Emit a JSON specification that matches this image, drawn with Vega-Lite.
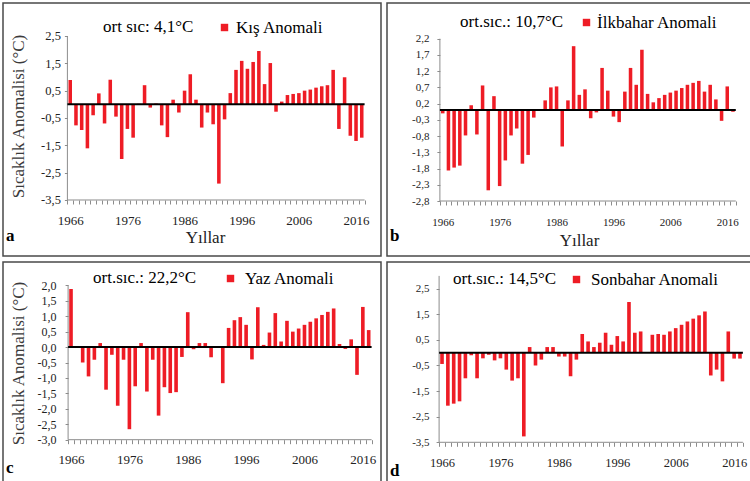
{
  "$schema": "https://vega.github.io/schema/vega-lite/v6.json",
  "background": "white",
  "padding": {"left": 2, "top": 2, "right": 0, "bottom": 0},
  "datasets": {
    "kis": [
      {"yil":1966,"deger":0.89,"seri":"Kış Anomali"},{"yil":1967,"deger":-0.77,"seri":"Kış Anomali"},{"yil":1968,"deger":-0.94,"seri":"Kış Anomali"},{"yil":1969,"deger":-1.61,"seri":"Kış Anomali"},{"yil":1970,"deger":-0.4,"seri":"Kış Anomali"},{"yil":1971,"deger":0.4,"seri":"Kış Anomali"},{"yil":1972,"deger":-0.7,"seri":"Kış Anomali"},{"yil":1973,"deger":0.9,"seri":"Kış Anomali"},{"yil":1974,"deger":-0.45,"seri":"Kış Anomali"},{"yil":1975,"deger":-2.0,"seri":"Kış Anomali"},{"yil":1976,"deger":-0.9,"seri":"Kış Anomali"},{"yil":1977,"deger":-1.22,"seri":"Kış Anomali"},{"yil":1978,"deger":0.02,"seri":"Kış Anomali"},{"yil":1979,"deger":0.7,"seri":"Kış Anomali"},{"yil":1980,"deger":-0.12,"seri":"Kış Anomali"},{"yil":1981,"deger":0.03,"seri":"Kış Anomali"},{"yil":1982,"deger":-0.77,"seri":"Kış Anomali"},{"yil":1983,"deger":-1.2,"seri":"Kış Anomali"},{"yil":1984,"deger":0.17,"seri":"Kış Anomali"},{"yil":1985,"deger":-0.3,"seri":"Kış Anomali"},{"yil":1986,"deger":0.5,"seri":"Kış Anomali"},{"yil":1987,"deger":1.1,"seri":"Kış Anomali"},{"yil":1988,"deger":0.17,"seri":"Kış Anomali"},{"yil":1989,"deger":-0.85,"seri":"Kış Anomali"},{"yil":1990,"deger":-0.3,"seri":"Kış Anomali"},{"yil":1991,"deger":-0.73,"seri":"Kış Anomali"},{"yil":1992,"deger":-2.9,"seri":"Kış Anomali"},{"yil":1993,"deger":-0.55,"seri":"Kış Anomali"},{"yil":1994,"deger":0.41,"seri":"Kış Anomali"},{"yil":1995,"deger":1.26,"seri":"Kış Anomali"},{"yil":1996,"deger":1.59,"seri":"Kış Anomali"},{"yil":1997,"deger":1.3,"seri":"Kış Anomali"},{"yil":1998,"deger":1.55,"seri":"Kış Anomali"},{"yil":1999,"deger":1.95,"seri":"Kış Anomali"},{"yil":2000,"deger":0.74,"seri":"Kış Anomali"},{"yil":2001,"deger":1.51,"seri":"Kış Anomali"},{"yil":2002,"deger":-0.27,"seri":"Kış Anomali"},{"yil":2003,"deger":0.1,"seri":"Kış Anomali"},{"yil":2004,"deger":0.34,"seri":"Kış Anomali"},{"yil":2005,"deger":0.38,"seri":"Kış Anomali"},{"yil":2006,"deger":0.41,"seri":"Kış Anomali"},{"yil":2007,"deger":0.5,"seri":"Kış Anomali"},{"yil":2008,"deger":0.54,"seri":"Kış Anomali"},{"yil":2009,"deger":0.61,"seri":"Kış Anomali"},{"yil":2010,"deger":0.66,"seri":"Kış Anomali"},{"yil":2011,"deger":0.7,"seri":"Kış Anomali"},{"yil":2012,"deger":1.26,"seri":"Kış Anomali"},{"yil":2013,"deger":-0.9,"seri":"Kış Anomali"},{"yil":2014,"deger":0.99,"seri":"Kış Anomali"},{"yil":2015,"deger":-1.15,"seri":"Kış Anomali"},{"yil":2016,"deger":-1.34,"seri":"Kış Anomali"},{"yil":2017,"deger":-1.22,"seri":"Kış Anomali"}
    ],
    "ilkbahar": [
      {"yil":1966,"deger":-0.1,"seri":"İlkbahar Anomali"},{"yil":1967,"deger":-1.86,"seri":"İlkbahar Anomali"},{"yil":1968,"deger":-1.77,"seri":"İlkbahar Anomali"},{"yil":1969,"deger":-1.71,"seri":"İlkbahar Anomali"},{"yil":1970,"deger":-0.78,"seri":"İlkbahar Anomali"},{"yil":1971,"deger":0.15,"seri":"İlkbahar Anomali"},{"yil":1972,"deger":-0.75,"seri":"İlkbahar Anomali"},{"yil":1973,"deger":0.76,"seri":"İlkbahar Anomali"},{"yil":1974,"deger":-2.47,"seri":"İlkbahar Anomali"},{"yil":1975,"deger":0.43,"seri":"İlkbahar Anomali"},{"yil":1976,"deger":-2.34,"seri":"İlkbahar Anomali"},{"yil":1977,"deger":-1.55,"seri":"İlkbahar Anomali"},{"yil":1978,"deger":-0.78,"seri":"İlkbahar Anomali"},{"yil":1979,"deger":-0.57,"seri":"İlkbahar Anomali"},{"yil":1980,"deger":-1.65,"seri":"İlkbahar Anomali"},{"yil":1981,"deger":-1.38,"seri":"İlkbahar Anomali"},{"yil":1982,"deger":-0.23,"seri":"İlkbahar Anomali"},{"yil":1983,"deger":0.0,"seri":"İlkbahar Anomali"},{"yil":1984,"deger":0.3,"seri":"İlkbahar Anomali"},{"yil":1985,"deger":0.7,"seri":"İlkbahar Anomali"},{"yil":1986,"deger":0.73,"seri":"İlkbahar Anomali"},{"yil":1987,"deger":-1.12,"seri":"İlkbahar Anomali"},{"yil":1988,"deger":0.3,"seri":"İlkbahar Anomali"},{"yil":1989,"deger":1.97,"seri":"İlkbahar Anomali"},{"yil":1990,"deger":0.47,"seri":"İlkbahar Anomali"},{"yil":1991,"deger":0.64,"seri":"İlkbahar Anomali"},{"yil":1992,"deger":-0.25,"seri":"İlkbahar Anomali"},{"yil":1993,"deger":-0.07,"seri":"İlkbahar Anomali"},{"yil":1994,"deger":1.3,"seri":"İlkbahar Anomali"},{"yil":1995,"deger":0.6,"seri":"İlkbahar Anomali"},{"yil":1996,"deger":-0.2,"seri":"İlkbahar Anomali"},{"yil":1997,"deger":-0.37,"seri":"İlkbahar Anomali"},{"yil":1998,"deger":0.57,"seri":"İlkbahar Anomali"},{"yil":1999,"deger":1.3,"seri":"İlkbahar Anomali"},{"yil":2000,"deger":0.78,"seri":"İlkbahar Anomali"},{"yil":2001,"deger":1.86,"seri":"İlkbahar Anomali"},{"yil":2002,"deger":0.5,"seri":"İlkbahar Anomali"},{"yil":2003,"deger":0.24,"seri":"İlkbahar Anomali"},{"yil":2004,"deger":0.37,"seri":"İlkbahar Anomali"},{"yil":2005,"deger":0.47,"seri":"İlkbahar Anomali"},{"yil":2006,"deger":0.54,"seri":"İlkbahar Anomali"},{"yil":2007,"deger":0.6,"seri":"İlkbahar Anomali"},{"yil":2008,"deger":0.68,"seri":"İlkbahar Anomali"},{"yil":2009,"deger":0.78,"seri":"İlkbahar Anomali"},{"yil":2010,"deger":0.84,"seri":"İlkbahar Anomali"},{"yil":2011,"deger":0.9,"seri":"İlkbahar Anomali"},{"yil":2012,"deger":0.57,"seri":"İlkbahar Anomali"},{"yil":2013,"deger":0.78,"seri":"İlkbahar Anomali"},{"yil":2014,"deger":0.33,"seri":"İlkbahar Anomali"},{"yil":2015,"deger":-0.33,"seri":"İlkbahar Anomali"},{"yil":2016,"deger":0.73,"seri":"İlkbahar Anomali"},{"yil":2017,"deger":-0.05,"seri":"İlkbahar Anomali"}
    ],
    "yaz": [
      {"yil":1966,"deger":1.88,"seri":"Yaz Anomali"},{"yil":1967,"deger":0.0,"seri":"Yaz Anomali"},{"yil":1968,"deger":-0.5,"seri":"Yaz Anomali"},{"yil":1969,"deger":-0.95,"seri":"Yaz Anomali"},{"yil":1970,"deger":-0.41,"seri":"Yaz Anomali"},{"yil":1971,"deger":0.13,"seri":"Yaz Anomali"},{"yil":1972,"deger":-1.38,"seri":"Yaz Anomali"},{"yil":1973,"deger":-0.25,"seri":"Yaz Anomali"},{"yil":1974,"deger":-1.9,"seri":"Yaz Anomali"},{"yil":1975,"deger":-0.41,"seri":"Yaz Anomali"},{"yil":1976,"deger":-2.66,"seri":"Yaz Anomali"},{"yil":1977,"deger":-1.27,"seri":"Yaz Anomali"},{"yil":1978,"deger":0.13,"seri":"Yaz Anomali"},{"yil":1979,"deger":-1.44,"seri":"Yaz Anomali"},{"yil":1980,"deger":-0.41,"seri":"Yaz Anomali"},{"yil":1981,"deger":-2.22,"seri":"Yaz Anomali"},{"yil":1982,"deger":-1.3,"seri":"Yaz Anomali"},{"yil":1983,"deger":-1.49,"seri":"Yaz Anomali"},{"yil":1984,"deger":-1.46,"seri":"Yaz Anomali"},{"yil":1985,"deger":-0.32,"seri":"Yaz Anomali"},{"yil":1986,"deger":1.13,"seri":"Yaz Anomali"},{"yil":1987,"deger":-0.07,"seri":"Yaz Anomali"},{"yil":1988,"deger":0.13,"seri":"Yaz Anomali"},{"yil":1989,"deger":0.13,"seri":"Yaz Anomali"},{"yil":1990,"deger":-0.33,"seri":"Yaz Anomali"},{"yil":1991,"deger":0.0,"seri":"Yaz Anomali"},{"yil":1992,"deger":-1.17,"seri":"Yaz Anomali"},{"yil":1993,"deger":0.62,"seri":"Yaz Anomali"},{"yil":1994,"deger":0.87,"seri":"Yaz Anomali"},{"yil":1995,"deger":0.97,"seri":"Yaz Anomali"},{"yil":1996,"deger":0.72,"seri":"Yaz Anomali"},{"yil":1997,"deger":-0.4,"seri":"Yaz Anomali"},{"yil":1998,"deger":1.29,"seri":"Yaz Anomali"},{"yil":1999,"deger":0.07,"seri":"Yaz Anomali"},{"yil":2000,"deger":0.47,"seri":"Yaz Anomali"},{"yil":2001,"deger":1.1,"seri":"Yaz Anomali"},{"yil":2002,"deger":0.18,"seri":"Yaz Anomali"},{"yil":2003,"deger":0.85,"seri":"Yaz Anomali"},{"yil":2004,"deger":0.5,"seri":"Yaz Anomali"},{"yil":2005,"deger":0.6,"seri":"Yaz Anomali"},{"yil":2006,"deger":0.72,"seri":"Yaz Anomali"},{"yil":2007,"deger":0.82,"seri":"Yaz Anomali"},{"yil":2008,"deger":0.93,"seri":"Yaz Anomali"},{"yil":2009,"deger":1.04,"seri":"Yaz Anomali"},{"yil":2010,"deger":1.14,"seri":"Yaz Anomali"},{"yil":2011,"deger":1.25,"seri":"Yaz Anomali"},{"yil":2012,"deger":0.1,"seri":"Yaz Anomali"},{"yil":2013,"deger":-0.06,"seri":"Yaz Anomali"},{"yil":2014,"deger":0.25,"seri":"Yaz Anomali"},{"yil":2015,"deger":-0.9,"seri":"Yaz Anomali"},{"yil":2016,"deger":1.3,"seri":"Yaz Anomali"},{"yil":2017,"deger":0.55,"seri":"Yaz Anomali"}
    ],
    "sonbahar": [
      {"yil":1966,"deger":-0.44,"seri":"Sonbahar Anomali"},{"yil":1967,"deger":-2.07,"seri":"Sonbahar Anomali"},{"yil":1968,"deger":-1.99,"seri":"Sonbahar Anomali"},{"yil":1969,"deger":-1.9,"seri":"Sonbahar Anomali"},{"yil":1970,"deger":-1.0,"seri":"Sonbahar Anomali"},{"yil":1971,"deger":-0.1,"seri":"Sonbahar Anomali"},{"yil":1972,"deger":-1.0,"seri":"Sonbahar Anomali"},{"yil":1973,"deger":-0.22,"seri":"Sonbahar Anomali"},{"yil":1974,"deger":-0.08,"seri":"Sonbahar Anomali"},{"yil":1975,"deger":-0.3,"seri":"Sonbahar Anomali"},{"yil":1976,"deger":-0.22,"seri":"Sonbahar Anomali"},{"yil":1977,"deger":-0.66,"seri":"Sonbahar Anomali"},{"yil":1978,"deger":-1.09,"seri":"Sonbahar Anomali"},{"yil":1979,"deger":-1.0,"seri":"Sonbahar Anomali"},{"yil":1980,"deger":-3.27,"seri":"Sonbahar Anomali"},{"yil":1981,"deger":0.22,"seri":"Sonbahar Anomali"},{"yil":1982,"deger":-0.5,"seri":"Sonbahar Anomali"},{"yil":1983,"deger":-0.27,"seri":"Sonbahar Anomali"},{"yil":1984,"deger":0.22,"seri":"Sonbahar Anomali"},{"yil":1985,"deger":0.22,"seri":"Sonbahar Anomali"},{"yil":1986,"deger":-0.15,"seri":"Sonbahar Anomali"},{"yil":1987,"deger":-0.15,"seri":"Sonbahar Anomali"},{"yil":1988,"deger":-0.92,"seri":"Sonbahar Anomali"},{"yil":1989,"deger":-0.27,"seri":"Sonbahar Anomali"},{"yil":1990,"deger":0.73,"seri":"Sonbahar Anomali"},{"yil":1991,"deger":0.44,"seri":"Sonbahar Anomali"},{"yil":1992,"deger":0.22,"seri":"Sonbahar Anomali"},{"yil":1993,"deger":0.39,"seri":"Sonbahar Anomali"},{"yil":1994,"deger":0.78,"seri":"Sonbahar Anomali"},{"yil":1995,"deger":0.31,"seri":"Sonbahar Anomali"},{"yil":1996,"deger":0.65,"seri":"Sonbahar Anomali"},{"yil":1997,"deger":0.44,"seri":"Sonbahar Anomali"},{"yil":1998,"deger":1.98,"seri":"Sonbahar Anomali"},{"yil":1999,"deger":0.78,"seri":"Sonbahar Anomali"},{"yil":2000,"deger":0.83,"seri":"Sonbahar Anomali"},{"yil":2001,"deger":0.0,"seri":"Sonbahar Anomali"},{"yil":2002,"deger":0.7,"seri":"Sonbahar Anomali"},{"yil":2003,"deger":0.73,"seri":"Sonbahar Anomali"},{"yil":2004,"deger":0.7,"seri":"Sonbahar Anomali"},{"yil":2005,"deger":0.83,"seri":"Sonbahar Anomali"},{"yil":2006,"deger":0.96,"seri":"Sonbahar Anomali"},{"yil":2007,"deger":1.09,"seri":"Sonbahar Anomali"},{"yil":2008,"deger":1.22,"seri":"Sonbahar Anomali"},{"yil":2009,"deger":1.33,"seri":"Sonbahar Anomali"},{"yil":2010,"deger":1.46,"seri":"Sonbahar Anomali"},{"yil":2011,"deger":1.61,"seri":"Sonbahar Anomali"},{"yil":2012,"deger":-0.89,"seri":"Sonbahar Anomali"},{"yil":2013,"deger":-0.66,"seri":"Sonbahar Anomali"},{"yil":2014,"deger":-1.12,"seri":"Sonbahar Anomali"},{"yil":2015,"deger":0.83,"seri":"Sonbahar Anomali"},{"yil":2016,"deger":-0.23,"seri":"Sonbahar Anomali"},{"yil":2017,"deger":-0.23,"seri":"Sonbahar Anomali"}
    ]
  },
  "spacing": 4,
  "resolve": {"scale": {"color": "independent"}, "legend": {"color": "independent"}},
  "vconcat": [
    {
      "spacing": 4,
      "resolve": {"scale": {"color": "independent"}, "legend": {"color": "independent"}},
      "hconcat": [
        {
          "width": 378, "height": 253,
          "title": {"text": "a", "orient": "bottom", "anchor": "start", "frame": "group", "offset": -28, "dx": 3, "fontSize": 17, "fontWeight": "bold", "font": "Liberation Serif", "color": "#000000"},
          "layer": [
            {
              "data": {"name": "kis"},
              "mark": {"type": "bar", "width": {"band": 0.62}},
              "encoding": {
                "x": {"field": "yil", "type": "ordinal",
                  "scale": {"paddingInner": 0, "paddingOuter": 0, "range": [64.4, 361.6]},
                  "axis": {"orient": "bottom", "offset": -56, "domain": false, "tickBand": "extent", "tickSize": 4, "tickColor": "#8c8c8c", "labelAngle": 0, "labelFontSize": 13, "labelPadding": 10, "labelColor": "#222222", "labelExpr": "(toNumber(datum.value) - 1966) % 10 == 0 ? datum.label : ''",
                    "title": "Yıllar", "titleFontSize": 17, "titleFontWeight": "normal", "titleColor": "#222222", "titleX": 202, "titleY": 29}},
                "y": {"field": "deger", "type": "quantitative",
                  "scale": {"domain": [-5.549, 3.707], "nice": false, "zero": false},
                  "axis": {"offset": -64.4, "domain": false, "grid": false, "values": [-3.5, -2.5, -1.5, -0.5, 0.5, 1.5, 2.5], "tickCount": 40, "labelOverlap": false, "tickSize": 3, "tickColor": "#8c8c8c", "labelPadding": 4, "labelFontSize": 12.5, "labelColor": "#222222",
                    "labelExpr": "replace(replace(format(datum.value, '.1f'), '.', ','), '\u2212', '-')",
                    "title": "Sıcaklık Anomalisi (°C)", "titleFontSize": 17, "titleFontWeight": "normal", "titleColor": "#3a3a3a", "titleX": -40, "titleY": 113, "titleBaseline": "bottom"}},
                "y2": {"datum": 0},
                "color": {"field": "seri", "type": "nominal", "scale": {"range": ["#ee1c25"]},
                  "legend": {"orient": "none", "legendX": 100, "legendY": 16, "direction": "horizontal", "title": "ort sıc: 4,1°C", "titleOrient": "left", "titlePadding": 22, "labelOffset": 3}}
              }
            },
            {"data": {"values": [{}]}, "mark": {"type": "rule", "color": "#8c8c8c", "strokeWidth": 1},
             "encoding": {"x": {"datum": 1966, "type": "ordinal", "bandPosition": 0}, "y": {"datum": -3.5}, "y2": {"datum": 2.5}}},
            {"data": {"values": [{}]}, "mark": {"type": "rule", "color": "#8c8c8c", "strokeWidth": 1},
             "encoding": {"x": {"datum": 1966, "type": "ordinal", "bandPosition": 0}, "x2": {"datum": 2017, "bandPosition": 1}, "y": {"datum": -3.5}}},
            {"data": {"values": [{}]}, "mark": {"type": "rule", "color": "#000000", "strokeWidth": 2},
             "encoding": {"x": {"datum": 1966, "type": "ordinal", "bandPosition": 0}, "x2": {"datum": 2017, "bandPosition": 1}, "y": {"datum": 0}}}
          ]
        },
        {
          "width": 364, "height": 253,
          "title": {"text": "b", "orient": "bottom", "anchor": "start", "frame": "group", "offset": -28, "dx": 3, "fontSize": 17, "fontWeight": "bold", "font": "Liberation Serif", "color": "#000000"},
          "layer": [
            {
              "data": {"name": "ilkbahar"},
              "mark": {"type": "bar", "width": {"band": 0.62}},
              "encoding": {
                "x": {"field": "yil", "type": "ordinal",
                  "scale": {"paddingInner": 0, "paddingOuter": 0, "range": [52.9, 348.8]},
                  "axis": {"orient": "bottom", "offset": -55, "domain": false, "tickBand": "extent", "tickSize": 4, "tickColor": "#8c8c8c", "labelAngle": 0, "labelFontSize": 11, "labelPadding": 11, "labelColor": "#222222", "labelExpr": "(toNumber(datum.value) - 1966) % 10 == 0 ? datum.label : ''",
                    "title": "Yıllar", "titleFontSize": 17, "titleFontWeight": "normal", "titleColor": "#222222", "titleX": 192, "titleY": 31}},
                "y": {"field": "deger", "type": "quantitative",
                  "scale": {"domain": [-4.494, 3.30], "nice": false, "zero": false},
                  "axis": {"offset": -52.9, "domain": false, "grid": false, "values": [-2.8, -2.3, -1.8, -1.3, -0.8, -0.3, 0.2, 0.7, 1.2, 1.7, 2.2], "tickCount": 40, "labelOverlap": false, "tickSize": 3, "tickColor": "#8c8c8c", "labelPadding": 8, "labelFontSize": 11, "labelColor": "#222222",
                    "labelExpr": "replace(replace(format(datum.value, '.1f'), '.', ','), '\u2212', '-')",
                    "title": null}},
                "y2": {"datum": 0},
                "color": {"field": "seri", "type": "nominal", "scale": {"range": ["#ee1c25"]},
                  "legend": {"orient": "none", "legendX": 73, "legendY": 11, "direction": "horizontal", "title": "ort.sıc.: 10,7°C", "titleOrient": "left", "titlePadding": 14, "labelOffset": 2}}
              }
            },
            {"data": {"values": [{}]}, "mark": {"type": "rule", "color": "#8c8c8c", "strokeWidth": 1},
             "encoding": {"x": {"datum": 1966, "type": "ordinal", "bandPosition": 0}, "y": {"datum": -2.8}, "y2": {"datum": 2.2}}},
            {"data": {"values": [{}]}, "mark": {"type": "rule", "color": "#8c8c8c", "strokeWidth": 1},
             "encoding": {"x": {"datum": 1966, "type": "ordinal", "bandPosition": 0}, "x2": {"datum": 2017, "bandPosition": 1}, "y": {"datum": -2.8}}},
            {"data": {"values": [{}]}, "mark": {"type": "rule", "color": "#000000", "strokeWidth": 2},
             "encoding": {"x": {"datum": 1966, "type": "ordinal", "bandPosition": 0}, "x2": {"datum": 2017, "bandPosition": 1}, "y": {"datum": 0}}}
          ]
        }
      ]
    },
    {
      "spacing": 4,
      "resolve": {"scale": {"color": "independent"}, "legend": {"color": "independent"}},
      "hconcat": [
        {
          "width": 378, "height": 220,
          "title": {"text": "c", "orient": "bottom", "anchor": "start", "frame": "group", "offset": -22, "dx": 3, "fontSize": 17, "fontWeight": "bold", "font": "Liberation Serif", "color": "#000000"},
          "layer": [
            {
              "data": {"name": "yaz"},
              "mark": {"type": "bar", "width": {"band": 0.62}},
              "encoding": {
                "x": {"field": "yil", "type": "ordinal",
                  "scale": {"paddingInner": 0, "paddingOuter": 0, "range": [65.1, 368.6]},
                  "axis": {"orient": "bottom", "offset": -42.3, "domain": false, "tickBand": "extent", "tickSize": 4, "tickColor": "#8c8c8c", "labelAngle": 0, "labelFontSize": 13, "labelPadding": 10, "labelColor": "#222222", "labelExpr": "(toNumber(datum.value) - 1966) % 10 == 0 ? datum.label : ''",
                    "title": null}},
                "y": {"field": "deger", "type": "quantitative",
                  "scale": {"domain": [-4.37, 2.755], "nice": false, "zero": false},
                  "axis": {"offset": -65.1, "domain": false, "grid": false, "values": [-3.0, -2.5, -2.0, -1.5, -1.0, -0.5, 0.0, 0.5, 1.0, 1.5, 2.0], "tickCount": 40, "labelOverlap": false, "tickSize": 3, "tickColor": "#8c8c8c", "labelPadding": 9, "labelFontSize": 12, "labelColor": "#222222",
                    "labelExpr": "replace(replace(format(datum.value, '.1f'), '.', ','), '\u2212', '-')",
                    "title": "Sıcaklık Anomalisi (°C)", "titleFontSize": 17, "titleFontWeight": "normal", "titleColor": "#3a3a3a", "titleX": -40.5, "titleY": 101, "titleBaseline": "bottom"}},
                "y2": {"datum": 0},
                "color": {"field": "seri", "type": "nominal", "scale": {"range": ["#ee1c25"]},
                  "legend": {"orient": "none", "legendX": 90, "legendY": 8, "direction": "horizontal", "title": "ort.sıc.: 22,2°C", "titleOrient": "left", "titlePadding": 25, "labelOffset": 6}}
              }
            },
            {"data": {"values": [{}]}, "mark": {"type": "rule", "color": "#8c8c8c", "strokeWidth": 1},
             "encoding": {"x": {"datum": 1966, "type": "ordinal", "bandPosition": 0}, "y": {"datum": -3.0}, "y2": {"datum": 2.0}}},
            {"data": {"values": [{}]}, "mark": {"type": "rule", "color": "#8c8c8c", "strokeWidth": 1},
             "encoding": {"x": {"datum": 1966, "type": "ordinal", "bandPosition": 0}, "x2": {"datum": 2017, "bandPosition": 1}, "y": {"datum": -3.0}}},
            {"data": {"values": [{}]}, "mark": {"type": "rule", "color": "#000000", "strokeWidth": 2},
             "encoding": {"x": {"datum": 1966, "type": "ordinal", "bandPosition": 0}, "x2": {"datum": 2017, "bandPosition": 1}, "y": {"datum": 0}}}
          ]
        },
        {
          "width": 364, "height": 220,
          "title": {"text": "d", "orient": "bottom", "anchor": "start", "frame": "group", "offset": -19, "dx": 3, "fontSize": 17, "fontWeight": "bold", "font": "Liberation Serif", "color": "#000000"},
          "layer": [
            {
              "data": {"name": "sonbahar"},
              "mark": {"type": "bar", "width": {"band": 0.62}},
              "encoding": {
                "x": {"field": "yil", "type": "ordinal",
                  "scale": {"paddingInner": 0, "paddingOuter": 0, "range": [52.1, 355.9]},
                  "axis": {"orient": "bottom", "offset": -39.7, "domain": false, "tickBand": "extent", "tickSize": 4, "tickColor": "#8c8c8c", "labelAngle": 0, "labelFontSize": 12.5, "labelPadding": 10, "labelColor": "#222222", "labelExpr": "(toNumber(datum.value) - 1966) % 10 == 0 ? datum.label : ''",
                    "title": null}},
                "y": {"field": "deger", "type": "quantitative",
                  "scale": {"domain": [-5.051, 3.543], "nice": false, "zero": false},
                  "axis": {"offset": -52.1, "domain": false, "grid": false, "values": [-3.5, -2.5, -1.5, -0.5, 0.5, 1.5, 2.5], "tickCount": 40, "labelOverlap": false, "tickSize": 3, "tickColor": "#8c8c8c", "labelPadding": 7, "labelFontSize": 11, "labelColor": "#222222",
                    "labelExpr": "replace(replace(format(datum.value, '.1f'), '.', ','), '\u2212', '-')",
                    "title": null}},
                "y2": {"datum": 0},
                "color": {"field": "seri", "type": "nominal", "scale": {"range": ["#ee1c25"]},
                  "legend": {"orient": "none", "legendX": 66, "legendY": 9, "direction": "horizontal", "title": "ort.sıc.: 14,5°C", "titleOrient": "left", "titlePadding": 11, "labelOffset": 6}}
              }
            },
            {"data": {"values": [{}]}, "mark": {"type": "rule", "color": "#8c8c8c", "strokeWidth": 1},
             "encoding": {"x": {"datum": 1966, "type": "ordinal", "bandPosition": 0}, "y": {"datum": -3.5}, "y2": {"datum": 3.0}}},
            {"data": {"values": [{}]}, "mark": {"type": "rule", "color": "#8c8c8c", "strokeWidth": 1},
             "encoding": {"x": {"datum": 1966, "type": "ordinal", "bandPosition": 0}, "x2": {"datum": 2017, "bandPosition": 1}, "y": {"datum": -3.5}}},
            {"data": {"values": [{}]}, "mark": {"type": "rule", "color": "#000000", "strokeWidth": 2},
             "encoding": {"x": {"datum": 1966, "type": "ordinal", "bandPosition": 0}, "x2": {"datum": 2017, "bandPosition": 1}, "y": {"datum": 0}}}
          ]
        }
      ]
    }
  ],
  "config": {
    "font": "Liberation Serif",
    "view": {"stroke": "#4a4a4a", "strokeWidth": 1.5},
    "axis": {"labelFont": "Liberation Serif", "titleFont": "Liberation Serif", "labelOverlap": false, "labelFlush": false, "labelBound": false},
    "legend": {"titleFont": "Liberation Serif", "labelFont": "Liberation Serif", "titleFontSize": 17, "labelFontSize": 17, "titleFontWeight": "normal", "titleColor": "#000000", "labelColor": "#000000", "symbolType": "square", "symbolSize": 55, "symbolStrokeWidth": 0, "padding": 0, "titleLimit": 300, "labelLimit": 300},
    "title": {"font": "Liberation Serif"}
  }
}
